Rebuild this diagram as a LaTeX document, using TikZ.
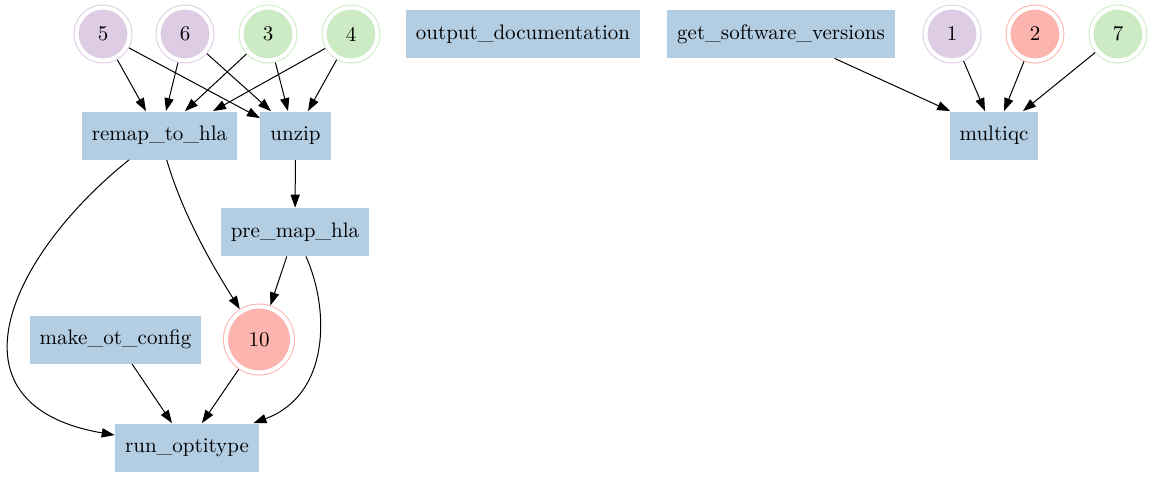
\documentclass[tikz,border=0pt]{standalone}
\usepackage{fontspec}
\usepackage{tikz}
\usetikzlibrary{arrows.meta}
\definecolor{procblue}{HTML}{B3CDE3}
\definecolor{chanpurple}{HTML}{DECBE4}
\definecolor{chanred}{HTML}{FBB4AE}
\definecolor{changreen}{HTML}{CCEBC5}

\begin{document}
\begin{tikzpicture} [x=0.5pt, y=-0.5pt,
	process/.style={rectangle, fill=procblue, minimum height=24pt, inner xsep=5pt, inner ysep=0pt, font=\fontsize{10.5}{12}\selectfont},
	channel/.style={circle, fill=#1, draw=#1, double=white, double distance=2pt, line width=0.5pt, minimum size=26.5pt, inner sep=0pt, outer sep=1.5pt, font=\fontsize{10.5}{12}\selectfont},
	flow/.style={-{Triangle[length=6.5pt, width=4.6pt]}, line width=0.5pt}]
	\useasboundingbox (0,0) rectangle (1153,477);
	\node [channel=chanpurple] (c5) at (103,34) {5};
	\node [channel=chanpurple] (c6) at (185,34) {6};
	\node [channel=changreen] (c3) at (268,34) {3};
	\node [channel=changreen] (c4) at (351,34) {4};
	\node [process] (outdoc) at (523,34) {output\_documentation};
	\node [process] (getsw) at (781,34) {get\_software\_versions};
	\node [channel=chanpurple] (c1) at (952,34) {1};
	\node [channel=chanred] (c2) at (1035,34) {2};
	\node [channel=changreen] (c7) at (1118,34) {7};
	\node [process] (remap) at (159.5,135.5) {remap\_to\_hla};
	\node [process] (unzip) at (295.5,135.5) {unzip};
	\node [process] (multiqc) at (994,135.5) {multiqc};
	\node [process] (premap) at (295,232) {pre\_map\_hla};
	\node [process] (makeot) at (115.5,339.5) {make\_ot\_config};
	\node [channel=chanred, minimum size=33pt] (c10) at (259,339.5) {10};
	\node [process] (runopt) at (187,447.5) {run\_optitype};

	\draw [flow] (c5) -- ([xshift=-6.75pt]remap.north);
	\draw [flow] (c6) -- ([xshift=3.25pt]remap.north);
	\draw [flow] (c3) -- ([xshift=12.75pt]remap.north);
	\draw [flow] (c4) -- ([xshift=26.75pt]remap.north);
	\draw [flow] (c5) -- ([yshift=-3.5pt]unzip.north west);
	\draw [flow] (c6) -- ([xshift=-12.25pt]unzip.north);
	\draw [flow] (c3) -- ([xshift=-3.75pt]unzip.north);
	\draw [flow] (c4) -- ([xshift=6.25pt]unzip.north);
	\draw [flow] (getsw) -- ([xshift=0.5pt]multiqc.north west);
	\draw [flow] (c1) -- ([xshift=-4.5pt]multiqc.north);
	\draw [flow] (c2) -- ([xshift=5pt]multiqc.north);
	\draw [flow] (c7) -- ([xshift=14.5pt]multiqc.north);
	\draw [flow] (unzip) -- (premap);
	\draw [flow] (remap) .. controls (183,215) and (212,265) .. (c10);
	\draw [flow] (premap) -- (c10);
	\draw [flow] (remap) .. controls (10,255) and (-60,405) .. (runopt);
	\draw [flow] (premap) .. controls (330,310) and (330,395) .. (runopt);
	\draw [flow] (makeot) -- ([xshift=-7.5pt]runopt.north);
	\draw [flow] (c10) -- ([xshift=7.5pt]runopt.north);
\end{tikzpicture}
\end{document}
